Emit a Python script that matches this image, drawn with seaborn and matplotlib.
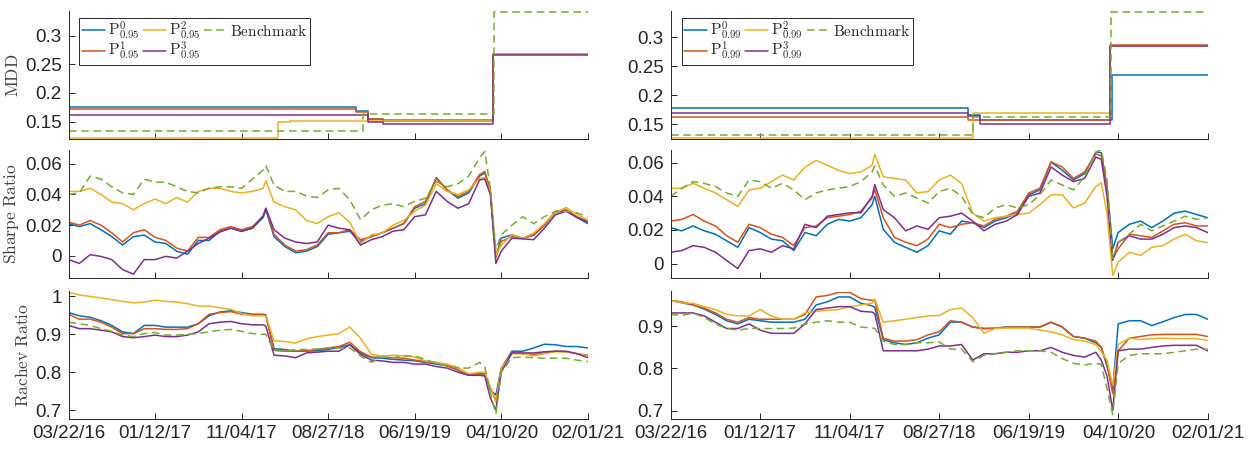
import numpy as np
import pandas as pd
import seaborn as sns
import matplotlib
import matplotlib.pyplot as plt
import matplotlib.dates as mdates
from matplotlib.ticker import FuncFormatter

matplotlib.use('Agg')

start = pd.Timestamp('2016-03-22')
end = pd.Timestamp('2021-02-01')

# days after 03/22/16 for the Sharpe / Rachev series
grid_days = [0, 37, 74, 111, 148, 185, 222, 259, 296, 333, 370, 407, 444, 481,
             518, 555, 592, 629, 666, 675, 703, 740, 777, 814, 851, 888, 925,
             962, 999, 1036, 1073, 1110, 1147, 1184, 1221, 1258, 1295, 1332,
             1369, 1406, 1424, 1443, 1462, 1480, 1517, 1554, 1591, 1628, 1665,
             1702, 1739, 1776]

# ---- MDD (step series): (days, values) ----
mdd95_days = {
    'P0': [0, 983, 1024, 1076, 1452, 1777],
    'P1': [0, 983, 1024, 1076, 1452, 1777],
    'P2': [0, 716, 758, 1452, 1777],
    'P3': [0, 1024, 1076, 1452, 1777],
    'B': [0, 1006, 1456, 1777],
}
mdd95_vals = {
    'P0': [0.1748, 0.168, 0.1545, 0.1517, 0.268, 0.268],
    'P1': [0.1725, 0.166, 0.154, 0.152, 0.268, 0.268],
    'P2': [0.1215, 0.1496, 0.1517, 0.2685, 0.2685],
    'P3': [0.1612, 0.149, 0.146, 0.2655, 0.2655],
    'B': [0.1335, 0.164, 0.3415, 0.3415],
}
mdd99_days = {
    'P0': [0, 984, 1023, 1459, 1777],
    'P1': [0, 984, 1452, 1777],
    'P2': [0, 1000, 1452, 1777],
    'P3': [0, 984, 1023, 1452, 1777],
    'B': [0, 1000, 1456, 1777],
}
mdd99_vals = {
    'P0': [0.1784, 0.1664, 0.158, 0.2356, 0.2356],
    'P1': [0.162, 0.158, 0.2865, 0.2865],
    'P2': [0.1265, 0.170, 0.2855, 0.2855],
    'P3': [0.169, 0.164, 0.150, 0.2855, 0.2855],
    'B': [0.131, 0.162, 0.343, 0.343],
}

# ---- Sharpe ratio ----
sharpe95 = {
    'P0': [0.021, 0.019, 0.021, 0.017, 0.0125, 0.007, 0.0125, 0.0135, 0.009, 0.008,
           0.003, 0.001, 0.010, 0.010, 0.016, 0.018, 0.016, 0.018, 0.025, 0.030,
           0.0125, 0.006, 0.002, 0.003, 0.006, 0.014, 0.015, 0.016, 0.0093, 0.0125,
           0.015, 0.018, 0.021, 0.031, 0.034, 0.051, 0.043, 0.0376, 0.041, 0.052,
           0.054, 0.043, -0.001, 0.0115, 0.0137, 0.0115, 0.0133, 0.020, 0.028,
           0.030, 0.025, 0.021],
    'P1': [0.022, 0.020, 0.023, 0.020, 0.015, 0.009, 0.015, 0.017, 0.012, 0.010,
           0.005, 0.003, 0.012, 0.012, 0.017, 0.019, 0.017, 0.019, 0.026, 0.031,
           0.014, 0.007, 0.003, 0.004, 0.007, 0.015, 0.015, 0.017, 0.0105, 0.0125,
           0.015, 0.018, 0.021, 0.032, 0.0355, 0.0505, 0.043, 0.0387, 0.042, 0.053,
           0.055, 0.042, -0.001, 0.0093, 0.0125, 0.0115, 0.0137, 0.020, 0.029,
           0.030, 0.0255, 0.0224],
    'P2': [0.042, 0.042, 0.044, 0.040, 0.035, 0.034, 0.030, 0.034, 0.037, 0.034,
           0.038, 0.035, 0.042, 0.044, 0.044, 0.042, 0.041, 0.042, 0.044, 0.049,
           0.035, 0.032, 0.030, 0.023, 0.021, 0.0255, 0.028, 0.022, 0.008, 0.0137,
           0.0148, 0.020, 0.023, 0.029, 0.033, 0.047, 0.042, 0.040, 0.043, 0.0505,
           0.051, 0.042, 0.000, 0.007, 0.0137, 0.0115, 0.0148, 0.021, 0.028,
           0.0315, 0.027, 0.0235],
    'P3': [-0.0025, -0.005, 0.0007, -0.0004, -0.0025, -0.009, -0.012, -0.0025,
           -0.0025, -0.0004, -0.0015, 0.003, 0.008, 0.0115, 0.0155, 0.018, 0.016,
           0.018, 0.026, 0.031, 0.017, 0.0115, 0.009, 0.008, 0.009, 0.020, 0.018,
           0.017, 0.007, 0.0105, 0.0125, 0.016, 0.017, 0.0255, 0.0267, 0.042,
           0.0355, 0.031, 0.034, 0.0495, 0.050, 0.040, -0.005, 0.003, 0.0115,
           0.011, 0.0105, 0.018, 0.0267, 0.029, 0.025, 0.022],
    'B': [0.040, 0.041, 0.052, 0.050, 0.045, 0.041, 0.040, 0.050, 0.048, 0.048,
          0.045, 0.042, 0.041, 0.044, 0.045, 0.045, 0.044, 0.050, 0.056, 0.059,
          0.046, 0.042, 0.042, 0.039, 0.038, 0.043, 0.044, 0.0365, 0.0235, 0.030,
          0.033, 0.034, 0.032, 0.0355, 0.0375, 0.0485, 0.045, 0.047, 0.052, 0.064,
          0.068, 0.044, 0.004, 0.0137, 0.020, 0.0255, 0.021, 0.0255, 0.029,
          0.029, 0.028, 0.0255],
}
sharpe99 = {
    'P0': [0.0214, 0.0195, 0.0224, 0.0195, 0.0175, 0.0136, 0.0097, 0.0214, 0.0185,
           0.0146, 0.0136, 0.0078, 0.0185, 0.0166, 0.0234, 0.0263, 0.0253, 0.0273,
           0.035, 0.040, 0.0204, 0.0127, 0.0097, 0.0068, 0.0107, 0.0195, 0.0175,
           0.0253, 0.0243, 0.0214, 0.0253, 0.0273, 0.030, 0.0409, 0.0438, 0.0604,
           0.0555, 0.0497, 0.0535, 0.0662, 0.066, 0.046, 0.009, 0.0185, 0.0234,
           0.0253, 0.0214, 0.0253, 0.030, 0.0312, 0.0292, 0.0273],
    'P1': [0.0253, 0.0263, 0.0292, 0.0253, 0.0224, 0.0166, 0.0127, 0.0234, 0.0214,
           0.0175, 0.0156, 0.0107, 0.0214, 0.0224, 0.0273, 0.0282, 0.0292, 0.0312,
           0.039, 0.044, 0.0273, 0.0156, 0.0127, 0.0107, 0.0146, 0.0234, 0.0214,
           0.0234, 0.0243, 0.0224, 0.0263, 0.0282, 0.0312, 0.0419, 0.0448, 0.0604,
           0.0574, 0.0506, 0.0545, 0.0652, 0.064, 0.045, 0.003, 0.0088, 0.0175,
           0.0166, 0.0156, 0.0195, 0.0234, 0.0243, 0.0224, 0.0224],
    'P2': [0.0448, 0.0448, 0.0477, 0.0448, 0.042, 0.038, 0.034, 0.0438, 0.0448,
           0.0487, 0.0526, 0.0497, 0.0574, 0.0613, 0.0584, 0.0555, 0.0535, 0.0545,
           0.0584, 0.065, 0.0516, 0.0506, 0.0497, 0.042, 0.0428, 0.0497, 0.0526,
           0.0477, 0.030, 0.0253, 0.0273, 0.0282, 0.0292, 0.030, 0.035, 0.0409,
           0.0409, 0.0331, 0.036, 0.0458, 0.048, 0.030, -0.007, 0.001, 0.0068,
           0.0049, 0.0097, 0.0107, 0.0146, 0.0175, 0.0136, 0.0125],
    'P3': [0.0068, 0.0078, 0.0107, 0.0097, 0.0068, 0.0019, -0.0029, 0.0078, 0.0088,
           0.0068, 0.0107, 0.0088, 0.0234, 0.0214, 0.0282, 0.0292, 0.0302, 0.0302,
           0.040, 0.047, 0.0321, 0.0273, 0.0195, 0.0224, 0.0204, 0.0273, 0.0282,
           0.030, 0.0253, 0.0195, 0.0234, 0.0253, 0.0292, 0.040, 0.0419, 0.0574,
           0.0526, 0.0487, 0.0506, 0.0633, 0.062, 0.040, 0.002, 0.0127, 0.0166,
           0.0146, 0.0146, 0.0175, 0.0214, 0.0224, 0.0214, 0.0185],
    'B': [0.040, 0.0448, 0.0487, 0.0477, 0.0458, 0.042, 0.040, 0.0497, 0.0487,
          0.0448, 0.0477, 0.0438, 0.038, 0.042, 0.0438, 0.0448, 0.0458, 0.0487,
          0.0545, 0.058, 0.0467, 0.040, 0.042, 0.039, 0.036, 0.0428, 0.0448, 0.040,
          0.0292, 0.0273, 0.0331, 0.035, 0.0331, 0.035, 0.0409, 0.0497, 0.0467,
          0.0438, 0.0516, 0.0662, 0.068, 0.050, 0.003, 0.0127, 0.0175, 0.0234,
          0.0195, 0.0224, 0.0253, 0.0282, 0.0263, 0.0273],
}

# ---- Rachev ratio ----
rachev95 = {
    'P0': [0.9575, 0.949, 0.945, 0.936, 0.9235, 0.9065, 0.902, 0.9235, 0.9235, 0.919,
           0.919, 0.919, 0.928, 0.949, 0.959, 0.962, 0.9575, 0.953, 0.953, 0.9515,
           0.862, 0.860, 0.8555, 0.8555, 0.857, 0.860, 0.866, 0.8725, 0.851, 0.838,
           0.837, 0.834, 0.832, 0.830, 0.826, 0.8215, 0.817, 0.806, 0.792, 0.796,
           0.795, 0.7535, 0.740, 0.810, 0.8555, 0.8555, 0.864, 0.874, 0.8725,
           0.868, 0.868, 0.864],
    'P1': [0.953, 0.940, 0.940, 0.932, 0.919, 0.902, 0.902, 0.915, 0.915, 0.913,
           0.913, 0.915, 0.928, 0.953, 0.9575, 0.960, 0.953, 0.9515, 0.9515, 0.949,
           0.858, 0.8555, 0.8555, 0.857, 0.860, 0.864, 0.868, 0.879, 0.854, 0.840,
           0.840, 0.8385, 0.837, 0.832, 0.828, 0.826, 0.817, 0.806, 0.792, 0.796,
           0.797, 0.758, 0.725, 0.810, 0.851, 0.849, 0.847, 0.851, 0.8555, 0.854,
           0.849, 0.845],
    'P2': [1.010, 1.004, 1.000, 0.996, 0.9915, 0.987, 0.983, 0.985, 0.990, 0.987,
           0.985, 0.981, 0.9745, 0.9745, 0.970, 0.966, 0.955, 0.949, 0.949, 0.949,
           0.883, 0.881, 0.877, 0.888, 0.894, 0.898, 0.902, 0.919, 0.890, 0.847,
           0.843, 0.845, 0.843, 0.840, 0.830, 0.826, 0.8215, 0.813, 0.796, 0.800,
           0.800, 0.762, 0.720, 0.810, 0.849, 0.849, 0.843, 0.849, 0.854, 0.854,
           0.849, 0.843],
    'P3': [0.9235, 0.915, 0.915, 0.911, 0.9065, 0.894, 0.891, 0.894, 0.898, 0.894,
           0.894, 0.898, 0.9065, 0.928, 0.932, 0.934, 0.928, 0.925, 0.925, 0.9215,
           0.845, 0.843, 0.8385, 0.851, 0.853, 0.8555, 0.8555, 0.8725, 0.847, 0.832,
           0.830, 0.826, 0.826, 0.8215, 0.8215, 0.815, 0.811, 0.800, 0.792, 0.792,
           0.790, 0.732, 0.700, 0.800, 0.851, 0.851, 0.851, 0.854, 0.8555, 0.8555,
           0.849, 0.8385],
    'B': [0.932, 0.928, 0.9235, 0.915, 0.908, 0.898, 0.894, 0.902, 0.905, 0.898,
          0.898, 0.900, 0.902, 0.9065, 0.911, 0.913, 0.908, 0.902, 0.900, 0.900,
          0.858, 0.8555, 0.860, 0.860, 0.8615, 0.864, 0.864, 0.864, 0.843, 0.826,
          0.840, 0.8385, 0.843, 0.843, 0.834, 0.823, 0.817, 0.811, 0.811, 0.826,
          0.815, 0.745, 0.690, 0.800, 0.8385, 0.840, 0.8385, 0.837, 0.837, 0.837,
          0.832, 0.828],
}
rachev99 = {
    'P0': [0.962, 0.956, 0.951, 0.941, 0.9285, 0.9135, 0.906, 0.917, 0.9135, 0.910,
           0.910, 0.910, 0.917, 0.951, 0.9585, 0.970, 0.970, 0.955, 0.949, 0.945,
           0.8685, 0.861, 0.857, 0.861, 0.872, 0.880, 0.910, 0.910, 0.8985, 0.895,
           0.895, 0.8985, 0.8985, 0.8985, 0.8985, 0.910, 0.8985, 0.876, 0.872, 0.861,
           0.850, 0.805, 0.750, 0.906, 0.9135, 0.9135, 0.902, 0.911, 0.921, 0.9285,
           0.9285, 0.917],
    'P1': [0.962, 0.9585, 0.951, 0.9435, 0.932, 0.917, 0.910, 0.921, 0.917, 0.917,
           0.917, 0.917, 0.9285, 0.970, 0.9735, 0.981, 0.981, 0.966, 0.962, 0.962,
           0.872, 0.865, 0.865, 0.8685, 0.880, 0.887, 0.9135, 0.910, 0.8985, 0.895,
           0.896, 0.8985, 0.8985, 0.8985, 0.8985, 0.910, 0.8985, 0.876, 0.872, 0.865,
           0.850, 0.812, 0.740, 0.842, 0.872, 0.876, 0.880, 0.881, 0.881, 0.881,
           0.881, 0.876],
    'P2': [0.962, 0.956, 0.955, 0.947, 0.940, 0.9285, 0.925, 0.925, 0.940, 0.925,
           0.917, 0.917, 0.932, 0.936, 0.938, 0.940, 0.947, 0.951, 0.955, 0.965,
           0.910, 0.9135, 0.917, 0.921, 0.925, 0.926, 0.940, 0.9435, 0.921, 0.8835,
           0.895, 0.896, 0.896, 0.896, 0.891, 0.887, 0.880, 0.8685, 0.865, 0.857,
           0.840, 0.820, 0.760, 0.857, 0.872, 0.8685, 0.871, 0.872, 0.871, 0.871,
           0.871, 0.8665],
    'P3': [0.932, 0.932, 0.932, 0.925, 0.910, 0.895, 0.895, 0.906, 0.891, 0.8835,
           0.8835, 0.8835, 0.906, 0.940, 0.9435, 0.947, 0.947, 0.936, 0.934, 0.930,
           0.842, 0.842, 0.842, 0.842, 0.846, 0.8535, 0.8535, 0.857, 0.820, 0.835,
           0.835, 0.8385, 0.8385, 0.842, 0.842, 0.850, 0.8385, 0.831, 0.827, 0.8385,
           0.820, 0.782, 0.700, 0.842, 0.846, 0.846, 0.850, 0.8535, 0.855, 0.855,
           0.855, 0.842],
    'B': [0.9285, 0.926, 0.932, 0.921, 0.906, 0.895, 0.891, 0.895, 0.895, 0.895,
          0.895, 0.896, 0.906, 0.910, 0.9135, 0.910, 0.910, 0.8985, 0.896, 0.895,
          0.865, 0.857, 0.857, 0.861, 0.861, 0.863, 0.846, 0.846, 0.816, 0.831,
          0.835, 0.8385, 0.842, 0.842, 0.842, 0.8385, 0.8235, 0.812, 0.8085, 0.812,
          0.810, 0.752, 0.690, 0.812, 0.831, 0.835, 0.835, 0.835, 0.8385, 0.842,
          0.846, 0.846],
}

series_keys = ['P0', 'P1', 'P2', 'P3', 'B']
colors = {'P0': '#0072BD', 'P1': '#D95319', 'P2': '#EDB120',
          'P3': '#7E2F8E', 'B': '#77AC30'}


def labels_for(q):
    return {'P0': r'$\mathrm{P}^{0}_{%s}$' % q, 'P1': r'$\mathrm{P}^{1}_{%s}$' % q,
            'P2': r'$\mathrm{P}^{2}_{%s}$' % q, 'P3': r'$\mathrm{P}^{3}_{%s}$' % q,
            'B': r'$\mathrm{Benchmark}$'}


sns.set_style('ticks')
plt.rcParams['font.family'] = ['Liberation Sans', 'DejaVu Sans']
plt.rcParams['mathtext.fontset'] = 'cm'

dark = '#262626'
fig = plt.figure(figsize=(12.56, 4.51), dpi=100)

col_x = [(68.5, 588.0), (670.7, 1208.0)]
row_y = [(11.0, 139.0), (150.0, 278.0), (291.5, 418.5)]


def make_ax(r, c):
    x0, x1 = col_x[c]
    y0, y1 = row_y[r]
    return fig.add_axes([x0 / 1256, 1 - y1 / 451, (x1 - x0) / 1256, (y1 - y0) / 451])


def style_ax(ax, ylim, yticks, ylabel, show_x):
    ax.set_xlim(start, end)
    ax.set_ylim(*ylim)
    ax.set_yticks(yticks)
    ax.yaxis.set_major_formatter(FuncFormatter(lambda v, p: '%g' % round(v, 3)))
    xt = np.linspace(mdates.date2num(start), mdates.date2num(end), 7)
    ax.set_xticks(xt)
    if show_x:
        ax.xaxis.set_major_formatter(mdates.DateFormatter('%m/%d/%y'))
    else:
        ax.set_xticklabels([])
    ax.tick_params(direction='in', length=4, width=0.7, colors=dark,
                   labelsize=13.5, pad=5)
    for s in ['top', 'right']:
        ax.spines[s].set_visible(False)
    for s in ['left', 'bottom']:
        ax.spines[s].set_color(dark)
        ax.spines[s].set_linewidth(0.7)
    ax.set_xlabel('')
    if ylabel:
        ax.set_ylabel(r'$\mathrm{%s}$' % ylabel, color='#404040', fontsize=12.5,
                      labelpad=3)
    else:
        ax.set_ylabel('')


def draw_steps(ax, days, vals):
    for k in series_keys:
        d = start + pd.to_timedelta(days[k], unit='D')
        ls = (0, (5, 3)) if k == 'B' else '-'
        sns.lineplot(x=d, y=vals[k], ax=ax, color=colors[k], lw=1.1,
                     linestyle=ls, drawstyle='steps-post', legend=False)


def draw_lines(ax, vals):
    d = start + pd.to_timedelta(grid_days, unit='D')
    for k in series_keys:
        ls = (0, (5, 3)) if k == 'B' else '-'
        sns.lineplot(x=d, y=vals[k], ax=ax, color=colors[k], lw=1.1,
                     linestyle=ls, legend=False)


panels = [
    (mdd95_days, mdd95_vals, sharpe95, rachev95, '0.95',
     (0.1195, 0.343), (-0.0145, 0.069), (0.678, 1.013), [0.7, 0.8, 0.9, 1.0]),
    (mdd99_days, mdd99_vals, sharpe99, rachev99, '0.99',
     (0.1245, 0.345), (-0.0085, 0.0675), (0.681, 0.983), [0.7, 0.8, 0.9]),
]

for c, (md, mv, sh, ra, q, yl1, yl2, yl3, rt) in enumerate(panels):
    ax1 = make_ax(0, c)
    draw_steps(ax1, md, mv)
    style_ax(ax1, yl1, [0.15, 0.2, 0.25, 0.3], 'MDD' if c == 0 else None, False)
    labs = labels_for(q)
    handles = [plt.Line2D([], [], color=colors[k], lw=1.1,
                          linestyle=(0, (5, 3)) if k == 'B' else '-')
               for k in series_keys]
    leg = ax1.legend(handles, [labs[k] for k in series_keys], ncol=3,
                     loc='upper left', bbox_to_anchor=(0.012, 0.985),
                     fontsize=11, frameon=True, fancybox=False, framealpha=1,
                     edgecolor=dark, handlelength=1.5, handletextpad=0.2,
                     columnspacing=0.25, labelspacing=-0.1, borderpad=0.15,
                     borderaxespad=0.3)
    leg.get_frame().set_linewidth(0.7)

    ax2 = make_ax(1, c)
    draw_lines(ax2, sh)
    style_ax(ax2, yl2, [0, 0.02, 0.04, 0.06], 'Sharpe\\ Ratio' if c == 0 else None, False)

    ax3 = make_ax(2, c)
    draw_lines(ax3, ra)
    style_ax(ax3, yl3, rt, 'Rachev\\ Ratio' if c == 0 else None, True)

fig.savefig('out.png', dpi=100)
